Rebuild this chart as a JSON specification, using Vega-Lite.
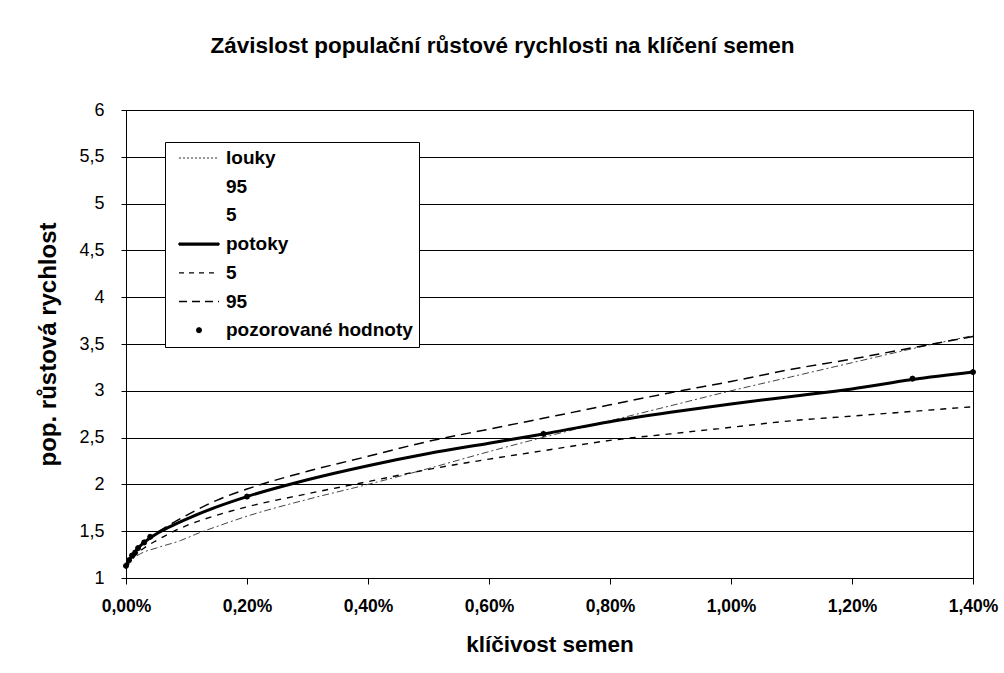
{
  "$schema": "https://vega.github.io/schema/vega-lite/v6.json",
  "width": 847,
  "height": 468,
  "autosize": {"type": "none"},
  "padding": {"left": 126, "top": 110, "right": 31, "bottom": 95},
  "background": "white",
  "title": {
    "text": "Závislost populační růstové rychlosti na klíčení semen",
    "font": "Liberation Sans",
    "fontSize": 22.5,
    "fontWeight": "bold",
    "color": "black",
    "anchor": "middle",
    "dx": -47,
    "offset": 44
  },
  "datasets": {
    "louky": [
      {"x": 0, "y": 1.13}, {"x": 0.0001, "y": 1.2}, {"x": 0.00024, "y": 1.26}, {"x": 0.0005, "y": 1.32},
      {"x": 0.0009, "y": 1.4}, {"x": 0.0012, "y": 1.48}, {"x": 0.0015, "y": 1.55}, {"x": 0.002, "y": 1.66},
      {"x": 0.003, "y": 1.84}, {"x": 0.004, "y": 2.0}, {"x": 0.005, "y": 2.17}, {"x": 0.006, "y": 2.35},
      {"x": 0.007, "y": 2.52}, {"x": 0.008, "y": 2.68}, {"x": 0.009, "y": 2.84}, {"x": 0.01, "y": 3.0},
      {"x": 0.011, "y": 3.15}, {"x": 0.012, "y": 3.3}, {"x": 0.013, "y": 3.45}, {"x": 0.014, "y": 3.59}
    ],
    "p95": [
      {"x": 0, "y": 1.12}, {"x": 0.0001, "y": 1.24}, {"x": 0.0002, "y": 1.32}, {"x": 0.0003, "y": 1.38},
      {"x": 0.0005, "y": 1.48}, {"x": 0.0007, "y": 1.56}, {"x": 0.001, "y": 1.67}, {"x": 0.0015, "y": 1.83},
      {"x": 0.002, "y": 1.95}, {"x": 0.003, "y": 2.14}, {"x": 0.004, "y": 2.3}, {"x": 0.005, "y": 2.46},
      {"x": 0.006, "y": 2.59}, {"x": 0.007, "y": 2.72}, {"x": 0.008, "y": 2.85}, {"x": 0.009, "y": 2.98},
      {"x": 0.01, "y": 3.1}, {"x": 0.011, "y": 3.23}, {"x": 0.012, "y": 3.34}, {"x": 0.013, "y": 3.46},
      {"x": 0.014, "y": 3.58}
    ],
    "p5": [
      {"x": 0, "y": 1.1}, {"x": 0.0001, "y": 1.2}, {"x": 0.0002, "y": 1.27}, {"x": 0.0003, "y": 1.32},
      {"x": 0.0005, "y": 1.4}, {"x": 0.0007, "y": 1.47}, {"x": 0.001, "y": 1.56}, {"x": 0.0015, "y": 1.67},
      {"x": 0.002, "y": 1.76}, {"x": 0.003, "y": 1.9}, {"x": 0.004, "y": 2.03}, {"x": 0.005, "y": 2.16},
      {"x": 0.006, "y": 2.27}, {"x": 0.007, "y": 2.37}, {"x": 0.008, "y": 2.47}, {"x": 0.009, "y": 2.54},
      {"x": 0.01, "y": 2.61}, {"x": 0.011, "y": 2.68}, {"x": 0.012, "y": 2.73}, {"x": 0.013, "y": 2.78},
      {"x": 0.014, "y": 2.83}
    ],
    "potoky": [
      {"x": 0, "y": 1.14}, {"x": 0.0001, "y": 1.24}, {"x": 0.0002, "y": 1.32}, {"x": 0.0003, "y": 1.38},
      {"x": 0.0005, "y": 1.47}, {"x": 0.0007, "y": 1.54}, {"x": 0.001, "y": 1.63}, {"x": 0.0015, "y": 1.76},
      {"x": 0.002, "y": 1.87}, {"x": 0.003, "y": 2.05}, {"x": 0.004, "y": 2.2}, {"x": 0.005, "y": 2.33},
      {"x": 0.006, "y": 2.44}, {"x": 0.007, "y": 2.55}, {"x": 0.008, "y": 2.67}, {"x": 0.009, "y": 2.77},
      {"x": 0.01, "y": 2.86}, {"x": 0.011, "y": 2.94}, {"x": 0.012, "y": 3.02}, {"x": 0.013, "y": 3.12},
      {"x": 0.014, "y": 3.2}
    ],
    "obs": [
      {"s": "pozorované hodnoty", "x": 0, "y": 1.13},
      {"s": "pozorované hodnoty", "x": 0.00005, "y": 1.19},
      {"s": "pozorované hodnoty", "x": 0.0001, "y": 1.24},
      {"s": "pozorované hodnoty", "x": 0.00015, "y": 1.27},
      {"s": "pozorované hodnoty", "x": 0.0002, "y": 1.32},
      {"s": "pozorované hodnoty", "x": 0.0003, "y": 1.38},
      {"s": "pozorované hodnoty", "x": 0.0004, "y": 1.44},
      {"s": "pozorované hodnoty", "x": 0.002, "y": 1.87},
      {"s": "pozorované hodnoty", "x": 0.0069, "y": 2.54},
      {"s": "pozorované hodnoty", "x": 0.013, "y": 3.13},
      {"s": "pozorované hodnoty", "x": 0.014, "y": 3.2}
    ]
  },
  "encoding": {
    "x": {
      "field": "x",
      "type": "quantitative",
      "scale": {"domain": [0, 0.014], "nice": false, "zero": false},
      "axis": {
        "values": [0, 0.002, 0.004, 0.006, 0.008, 0.01, 0.012, 0.014],
        "labelExpr": "replace(format(datum.value, '.2%'), '.', ',')",
        "title": "klíčivost semen",
        "grid": false,
        "tickSize": 6,
        "labelPadding": 13,
        "labelFontSize": 17.5,
        "labelFontWeight": "bold",
        "labelFlush": false,
        "labelOverlap": false,
        "titleFontSize": 22.5,
        "titlePadding": 19
      }
    },
    "y": {
      "field": "y",
      "type": "quantitative",
      "scale": {"domain": [1, 6], "nice": false, "zero": false},
      "axis": {
        "values": [1, 1.5, 2, 2.5, 3, 3.5, 4, 4.5, 5, 5.5, 6],
        "labelExpr": "replace(format(datum.value, '~g'), '.', ',')",
        "title": "pop. růstová rychlost",
        "grid": true,
        "gridColor": "black",
        "gridWidth": 1,
        "tickSize": 5,
        "labelPadding": 17,
        "labelFontSize": 18,
        "labelFontWeight": "normal",
        "labelFlush": false,
        "labelOverlap": false,
        "titleFontSize": 24,
        "titlePadding": 18
      }
    }
  },
  "layer": [
    {
      "data": {"name": "louky"},
      "mark": {"type": "line", "color": "#444", "strokeWidth": 1, "strokeDash": [7, 3, 2, 3], "interpolate": "monotone"}
    },
    {
      "data": {"name": "p5"},
      "mark": {"type": "line", "color": "black", "strokeWidth": 1.4, "strokeDash": [6, 6], "interpolate": "monotone"}
    },
    {
      "data": {"name": "p95"},
      "mark": {"type": "line", "color": "black", "strokeWidth": 1.5, "strokeDash": [10, 6], "interpolate": "monotone"}
    },
    {
      "data": {"name": "potoky"},
      "mark": {"type": "line", "color": "black", "strokeWidth": 3, "interpolate": "monotone"}
    },
    {
      "data": {"name": "obs"},
      "mark": {"type": "point", "filled": false, "size": 1600, "strokeWidth": 1.3, "opacity": 1},
      "encoding": {
        "color": {
          "field": "s",
          "type": "nominal",
          "scale": {
            "domain": ["louky", "louky 95", "louky 5", "potoky", "potoky 5", "potoky 95", "pozorované hodnoty"],
            "range": ["#777", "transparent", "transparent", "black", "black", "black", "black"]
          },
          "legend": {
            "title": null, "orient": "none", "legendX": 39, "legendY": 32,
            "labelExpr": "datum.label == 'louky 95' || datum.label == 'potoky 95' ? '95' : (datum.label == 'louky 5' || datum.label == 'potoky 5' ? '5' : datum.label)"
          }
        },
        "fill": {
          "field": "s",
          "type": "nominal",
          "scale": {
            "domain": ["louky", "louky 95", "louky 5", "potoky", "potoky 5", "potoky 95", "pozorované hodnoty"],
            "range": ["transparent", "transparent", "transparent", "black", "transparent", "transparent", "black"]
          },
          "legend": {
            "title": null, "orient": "none", "legendX": 39, "legendY": 32,
            "labelExpr": "datum.label == 'louky 95' || datum.label == 'potoky 95' ? '95' : (datum.label == 'louky 5' || datum.label == 'potoky 5' ? '5' : datum.label)"
          }
        },
        "strokeDash": {
          "field": "s",
          "type": "nominal",
          "scale": {
            "domain": ["louky", "louky 95", "louky 5", "potoky", "potoky 5", "potoky 95", "pozorované hodnoty"],
            "range": [[2, 2], [1, 0], [1, 0], [1, 0], [5, 5], [8, 5], [1, 0]]
          },
          "legend": {
            "title": null, "orient": "none", "legendX": 39, "legendY": 32,
            "labelExpr": "datum.label == 'louky 95' || datum.label == 'potoky 95' ? '95' : (datum.label == 'louky 5' || datum.label == 'potoky 5' ? '5' : datum.label)"
          }
        },
        "shape": {
          "field": "s",
          "type": "nominal",
          "scale": {
            "domain": ["louky", "louky 95", "louky 5", "potoky", "potoky 5", "potoky 95", "pozorované hodnoty"],
            "range": ["stroke", "stroke", "stroke", "M -1 -0.05 L 1 -0.05 L 1 0.05 L -1 0.05 Z", "stroke", "stroke", "M 0.12 0 L 0.085 0.085 L 0 0.12 L -0.085 0.085 L -0.12 0 L -0.085 -0.085 L 0 -0.12 L 0.085 -0.085 Z"]
          },
          "legend": {
            "title": null, "orient": "none", "legendX": 39, "legendY": 32,
            "labelExpr": "datum.label == 'louky 95' || datum.label == 'potoky 95' ? '95' : (datum.label == 'louky 5' || datum.label == 'potoky 5' ? '5' : datum.label)"
          }
        }
      }
    }
  ],
  "config": {
    "font": "Liberation Sans",
    "view": {"stroke": "black", "strokeWidth": 1},
    "axis": {
      "domainColor": "black",
      "tickColor": "black",
      "labelColor": "black",
      "titleColor": "black",
      "labelFont": "Liberation Sans",
      "titleFont": "Liberation Sans",
      "titleFontWeight": "bold"
    },
    "legend": {
      "labelFont": "Liberation Sans",
      "labelFontSize": 19,
      "labelFontWeight": "bold",
      "labelColor": "black",
      "labelLimit": 400,
      "symbolSize": 1600,
      "symbolStrokeWidth": 1.3,
      "clipHeight": 20,
      "rowPadding": 8.7,
      "padding": 6,
      "strokeColor": "black",
      "fillColor": "white",
      "labelOffset": 6,
      "symbolOffset": 7
    }
  }
}
